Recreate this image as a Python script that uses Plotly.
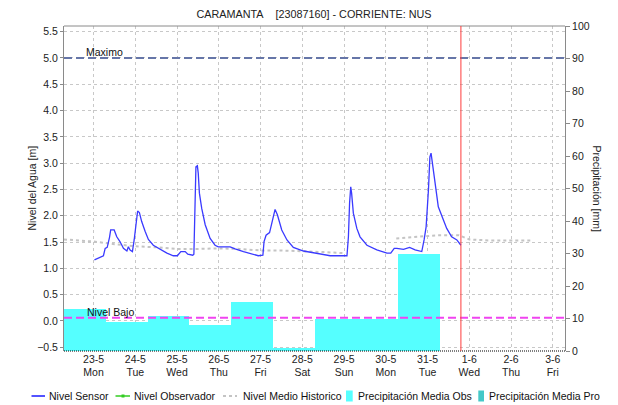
import pandas as pd
import plotly.graph_objects as go

# --- Nivel Sensor (m) ---
sensor_time = [
    "2022-05-23 00:30", "2022-05-23 03:40", "2022-05-23 05:40", "2022-05-23 06:40",
    "2022-05-23 07:50", "2022-05-23 09:10", "2022-05-23 09:50", "2022-05-23 11:50",
    "2022-05-23 13:20", "2022-05-23 15:10", "2022-05-23 17:10", "2022-05-23 19:10",
    "2022-05-23 20:00", "2022-05-23 21:00", "2022-05-23 22:20", "2022-05-23 23:20",
    "2022-05-24 00:20", "2022-05-24 01:20", "2022-05-24 02:20", "2022-05-24 03:40",
    "2022-05-24 05:40", "2022-05-24 07:30", "2022-05-24 10:20", "2022-05-24 14:10",
    "2022-05-24 18:10", "2022-05-24 21:50", "2022-05-25 00:10", "2022-05-25 02:10",
    "2022-05-25 04:40", "2022-05-25 06:10", "2022-05-25 09:00", "2022-05-25 09:40",
    "2022-05-25 10:10", "2022-05-25 10:50", "2022-05-25 11:40", "2022-05-25 12:10",
    "2022-05-25 12:50", "2022-05-25 14:10", "2022-05-25 16:10", "2022-05-25 19:00",
    "2022-05-25 21:50", "2022-05-25 23:40", "2022-05-26 06:30", "2022-05-26 09:20",
    "2022-05-26 14:10", "2022-05-26 19:00", "2022-05-26 22:40", "2022-05-27 01:20",
    "2022-05-27 02:00", "2022-05-27 03:10", "2022-05-27 05:10", "2022-05-27 06:20",
    "2022-05-27 08:20", "2022-05-27 09:40", "2022-05-27 12:10", "2022-05-27 15:10",
    "2022-05-27 18:50", "2022-05-28 00:40", "2022-05-28 06:20", "2022-05-28 14:10",
    "2022-05-28 16:00", "2022-05-29 01:40", "2022-05-29 02:30", "2022-05-29 03:10",
    "2022-05-29 03:50", "2022-05-29 04:20", "2022-05-29 05:20", "2022-05-29 07:20",
    "2022-05-29 09:10", "2022-05-29 13:10", "2022-05-29 18:50", "2022-05-30 00:40",
    "2022-05-30 02:50", "2022-05-30 04:50", "2022-05-30 06:20", "2022-05-30 10:10",
    "2022-05-30 13:40", "2022-05-30 16:50", "2022-05-30 20:40", "2022-05-30 22:00",
    "2022-05-30 23:10", "2022-05-31 00:30", "2022-05-31 01:20", "2022-05-31 02:00",
    "2022-05-31 02:40", "2022-05-31 04:20", "2022-05-31 06:10", "2022-05-31 09:10",
    "2022-05-31 11:00", "2022-05-31 13:50", "2022-05-31 16:50", "2022-05-31 19:10",
]
sensor_level = [
    1.16, 1.21, 1.24, 1.38,
    1.40, 1.59, 1.73, 1.73,
    1.60, 1.51, 1.38, 1.33,
    1.41, 1.35, 1.32, 1.54,
    1.82, 2.09, 2.06, 1.89,
    1.70, 1.55, 1.44, 1.36,
    1.29, 1.24, 1.24, 1.32,
    1.32, 1.27, 1.25, 1.27,
    2.30, 2.93, 2.95, 2.81,
    2.43, 2.14, 1.83, 1.57,
    1.44, 1.41, 1.41, 1.37,
    1.32, 1.27, 1.24, 1.25,
    1.51, 1.63, 1.68, 1.84,
    2.12, 2.02, 1.73, 1.54,
    1.40, 1.33, 1.30, 1.25,
    1.24, 1.24, 1.60, 2.24,
    2.55, 2.43, 2.05, 1.76,
    1.60, 1.44, 1.35, 1.29,
    1.29, 1.38, 1.38, 1.36,
    1.40, 1.35, 1.32, 1.54,
    1.79, 2.49, 3.12, 3.19,
    3.00, 2.62, 2.17, 1.92,
    1.76, 1.60, 1.54, 1.44,
]

# --- Nivel Medio Historico (m); None marks the break in the series ---
hist_time = [
    "2022-05-22 07:00", "2022-05-23 00:00", "2022-05-23 12:00", "2022-05-24 00:00",
    "2022-05-24 12:00", "2022-05-25 00:00", "2022-05-25 12:00", "2022-05-26 00:00",
    "2022-05-26 12:00", "2022-05-27 00:00", "2022-05-27 12:00", "2022-05-28 00:00",
    "2022-05-28 12:00", "2022-05-29 00:00", "2022-05-29 12:00", "2022-05-30 06:00",
    "2022-05-30 18:00", "2022-05-31 06:00", "2022-05-31 18:00", "2022-06-01 00:00",
    "2022-06-01 12:00", "2022-06-02 12:00",
]
hist_level = [
    1.55, 1.51, 1.46, 1.42,
    1.40, 1.37, 1.37, 1.38,
    1.37, 1.34, 1.34, 1.33,
    1.31, 1.29, None, 1.57,
    1.60, 1.63, 1.63, 1.55,
    1.53, 1.53,
]

# --- Precipitación Media Obs (mm), daily totals from 07:00 to 07:00 ---
precip_day = [
    "2022-05-22", "2022-05-23", "2022-05-24", "2022-05-25", "2022-05-26",
    "2022-05-27", "2022-05-28", "2022-05-29", "2022-05-30",
]
precip_obs = [13.0, 8.8, 10.8, 8.1, 15.2, 1.0, 9.9, 9.9, 29.7]

# --- reference levels and current time ---
level_max = 5.0
level_low = 0.06
now_time = "2022-05-31 19:10"

# --- x-axis ticks ---
tick_dates = [
    "2022-05-23", "2022-05-24", "2022-05-25", "2022-05-26", "2022-05-27", "2022-05-28",
    "2022-05-29", "2022-05-30", "2022-05-31", "2022-06-01", "2022-06-02", "2022-06-03",
]
tick_labels = [
    "23-5<br>Mon", "24-5<br>Tue", "25-5<br>Wed", "26-5<br>Thu", "27-5<br>Fri", "28-5<br>Sat",
    "29-5<br>Sun", "30-5<br>Mon", "31-5<br>Tue", "1-6<br>Wed", "2-6<br>Thu", "3-6<br>Fri",
]
level_ticks = [-0.5, 0.0, 0.5, 1.0, 1.5, 2.0, 2.5, 3.0, 3.5, 4.0, 4.5, 5.0, 5.5]

FONT = "Liberation Sans, Arial, sans-serif"
W, H = 618, 405
L, R, T, B = 64, 53, 26, 54
PW, PH = W - L - R, H - T - B

COL_SENSOR = "#3a3aff"
COL_OBS = "#55ffff"
COL_PRO = "#44c8c8"
COL_HIST = "#c4c4c4"
COL_GRID = "#c8c8c8"
COL_AXIS = "#8a8a8a"


def px_x(xp):
    """Pixel column -> paper fraction of the plot area."""
    return (xp - L) / PW


def px_y(yp):
    """Pixel row -> paper fraction of the plot area."""
    return (H - B - yp) / PH


bar_x = pd.to_datetime(precip_day) + pd.Timedelta(hours=19)

fig = go.Figure()

fig.add_trace(go.Scatter(
    x=pd.to_datetime(hist_time), y=hist_level, mode="lines",
    line=dict(color=COL_HIST, width=2, dash="3px,3px"),
    name="Nivel Medio Historico", connectgaps=False, showlegend=False,
))
fig.add_trace(go.Scatter(
    x=pd.to_datetime(sensor_time), y=sensor_level, mode="lines",
    line=dict(color=COL_SENSOR, width=1.3),
    name="Nivel Sensor", showlegend=False,
))
fig.add_trace(go.Bar(
    x=bar_x, y=precip_obs, width=86400000, yaxis="y2",
    marker=dict(color=COL_OBS, line=dict(width=0)),
    name="Precipitación Media Obs", showlegend=False,
))

shapes = [
    # top border
    dict(type="line", xref="paper", yref="paper", x0=0, x1=1, y0=1, y1=1,
         line=dict(color=COL_AXIS, width=1)),
    # bottom dotted baseline
    dict(type="line", xref="paper", yref="paper", x0=0, x1=1, y0=0, y1=0,
         line=dict(color="#000000", width=1.2, dash="1px,1px"), layer="above"),
    # Maximo
    dict(type="line", xref="paper", yref="y", x0=0, x1=1, y0=level_max, y1=level_max,
         line=dict(color="#6676a8", width=2, dash="8px,4px"), layer="above"),
    # Nivel Bajo
    dict(type="line", xref="paper", yref="y", x0=0, x1=1, y0=level_low, y1=level_low,
         line=dict(color="#f044f0", width=2, dash="8px,4px"), layer="above"),
    # current time
    dict(type="line", xref="x", yref="paper", x0=now_time, x1=now_time, y0=0, y1=1,
         line=dict(color="#ff3b3b", width=1), layer="above"),
]

annotations = [
    dict(text="Maximo", xref="paper", yref="y", x=px_x(84), y=level_max,
         xanchor="left", yanchor="bottom", showarrow=False, yshift=-2,
         font=dict(family=FONT, size=10.5, color="#111")),
    dict(text="Nivel Bajo", xref="paper", yref="y", x=px_x(85), y=level_low,
         xanchor="left", yanchor="bottom", showarrow=False, yshift=-2,
         font=dict(family=FONT, size=10.5, color="#111")),
    dict(text="Nivel del Agua [m]", xref="paper", yref="paper", x=px_x(31), y=0.5,
         textangle=-90, showarrow=False, xanchor="center", yanchor="middle",
         font=dict(family=FONT, size=10.5, color="#222")),
    dict(text="Precipitación [mm]", xref="paper", yref="paper", x=px_x(597), y=0.5,
         textangle=90, showarrow=False, xanchor="center", yanchor="middle",
         font=dict(family=FONT, size=10.5, color="#222")),
]

# legend row along the bottom
LEG_Y = 396
legend_font = dict(family=FONT, size=10.5, color="#111")
shapes += [
    dict(type="line", xref="paper", yref="paper", x0=px_x(31.5), x1=px_x(45),
         y0=px_y(LEG_Y), y1=px_y(LEG_Y), line=dict(color="#1a1aff", width=1.5)),
    dict(type="line", xref="paper", yref="paper", x0=px_x(115.5), x1=px_x(130),
         y0=px_y(LEG_Y), y1=px_y(LEG_Y), line=dict(color="#33cc22", width=1.5)),
    dict(type="rect", xref="paper", yref="paper", x0=px_x(121.5), x1=px_x(124.5),
         y0=px_y(LEG_Y + 1.5), y1=px_y(LEG_Y - 1.5),
         line=dict(width=0), fillcolor="#33cc22"),
    dict(type="line", xref="paper", yref="paper", x0=px_x(223), x1=px_x(237),
         y0=px_y(LEG_Y), y1=px_y(LEG_Y),
         line=dict(color=COL_HIST, width=2, dash="3px,3px")),
    dict(type="rect", xref="paper", yref="paper", x0=px_x(346), x1=px_x(352.7),
         y0=px_y(401.5), y1=px_y(390.5), line=dict(width=0), fillcolor=COL_OBS),
    dict(type="rect", xref="paper", yref="paper", x0=px_x(478.3), x1=px_x(484),
         y0=px_y(401.5), y1=px_y(390.5), line=dict(width=0), fillcolor=COL_PRO),
]
for label, xp in [("Nivel Sensor", 47), ("Nivel Observador", 132),
                  ("Nivel Medio Historico", 240.5), ("Precipitación Media Obs", 356),
                  ("Precipitación Media Pro", 487)]:
    annotations.append(dict(text=label, xref="paper", yref="paper", x=px_x(xp),
                            y=px_y(LEG_Y), xanchor="left", yanchor="middle",
                            showarrow=False, font=legend_font))

fig.update_layout(
    width=W, height=H,
    margin=dict(l=L, r=R, t=T, b=B, pad=0),
    paper_bgcolor="white", plot_bgcolor="white",
    font=dict(family=FONT, size=10.5, color="#222"),
    title=dict(text="CARAMANTA&nbsp;&nbsp;&nbsp;&nbsp;[23087160] - CORRIENTE: NUS",
               x=314 / W, xanchor="center", y=1 - 14 / H, yanchor="middle",
               font=dict(family=FONT, size=10.8, color="#222")),
    showlegend=False,
    bargap=0,
    xaxis=dict(
        type="date", range=["2022-05-22 07:00", "2022-06-03 07:00"],
        tickmode="array", tickvals=tick_dates, ticktext=tick_labels,
        showgrid=True, gridcolor=COL_GRID, griddash="dot", gridwidth=1,
        showline=False, zeroline=False, ticks="",
        tickfont=dict(family=FONT, size=10.5, color="#222"),
    ),
    yaxis=dict(
        range=[-0.571, 5.608], tickmode="array", tickvals=level_ticks,
        tickformat=".1f", showgrid=True, gridcolor=COL_GRID, griddash="dot",
        gridwidth=1, zeroline=False, showline=True, linecolor=COL_AXIS, linewidth=1,
        ticks="outside", ticklen=3, tickcolor=COL_AXIS,
        tickfont=dict(family=FONT, size=10.5, color="#222"),
    ),
    yaxis2=dict(
        overlaying="y", side="right", range=[0, 100], tickmode="linear",
        tick0=0, dtick=10, showgrid=False, zeroline=False, showline=True,
        linecolor=COL_AXIS, linewidth=1, ticks="outside", ticklen=4,
        tickcolor=COL_AXIS, tickfont=dict(family=FONT, size=10.5, color="#222"),
    ),
    shapes=shapes,
    annotations=annotations,
)

fig.write_html("out.html")
